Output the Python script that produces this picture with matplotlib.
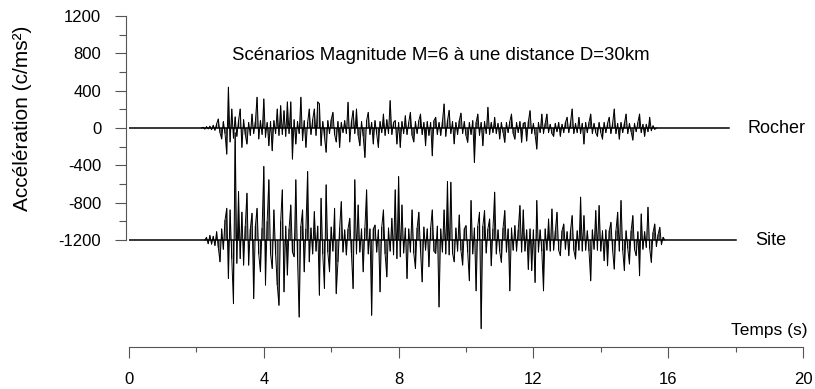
import numpy as np
import matplotlib
matplotlib.use("Agg")
import matplotlib.pyplot as plt
from matplotlib.ticker import MultipleLocator

plt.rcParams["font.family"] = ["Liberation Sans", "DejaVu Sans"]
plt.rcParams["axes.unicode_minus"] = False

dt = 0.05

# Rocher : c/ms2, debut a 2.15 s
rocher_start = 2.15
rocher_flat_end = 17.8
rocher_acc = [
    0, 8, -12, 15, -10, 20, -18, 30, -25, 45, 97, -50, -118, 70, -60, -280, 438, -150, 204, -110,          # 2.15
    120, -90, 80, 204, -208, 90, -70, -172, 60, -80, 150, -60, 70, 330, -118, 80, -70, 312, -100, 60,      # 3.15
    -190, 70, -244, 80, -60, 204, -80, 240, -70, 186, -90, 280, -60, 280, -334, 90, -172, 70, -60, 330,    # 4.15
    -136, 80, -208, 60, 204, -70, 90, 204, -80, 280, 260, -190, 70, -90, -260, 80, -60, 90, 168, -70,      # 5.15
    -150, 70, -208, 60, -50, 80, -60, 276, -150, 70, 186, -60, 204, -80, -190, 70, -90, -316, 80, 168,     # 6.15
    -70, 60, -172, 80, -60, -208, 70, -50, 150, -80, 90, -60, 294, -70, 60, 80, -172, 60, -208, 70,        # 7.15
    -60, 132, -70, 60, 168, -80, -150, 70, -60, 80, 150, -70, 60, -190, 70, -80, 60, -298, 80, 115,        # 8.15
    -70, 60, -80, 70, 258, -90, 80, 190, -60, 70, -170, 60, -70, 80, 160, -60, 70, -80, -154, 60,          # 9.15
    -70, 80, -370, 60, 150, -80, 60, -190, 70, -60, 222, -70, 60, -50, 115, -60, 50, -118, 60, -50,        # 10.15
    -154, 60, -50, 70, 150, -60, -120, 60, -50, 70, -154, 50, 60, -140, 70, 186, -60, 50, -70, -226,       # 11.15
    60, -50, 150, -60, 50, 150, -50, 40, -60, -90, 50, -40, 60, -90, 40, -50, 60, 115, -50, 60,            # 12.15
    204, -60, 50, -50, 115, -60, 50, -172, 60, -50, 60, 150, -60, 50, -50, -90, 60, -50, -120, 60,         # 13.15
    -50, 50, 115, -60, 50, 204, -60, 50, -120, 60, -50, 50, 150, -60, 50, -40, -130, 50, -40, 60,          # 14.15
    150, -50, 40, -90, 40, -40, 115, -30, 25, -15, 0,                                                      # 15.15
]

# Site : c/ms2, debut a 2.25 s
site_start = 2.25
site_flat_end = 18.0
site_acc = [
    0, 30, -40, 50, -45, 40, -60, 90, -80, -234, 120, -100, 215, 340, -413, 323, -200, -682, 1150, -250,            # 2.25
    520, -200, 300, -270, 150, 502, -270, 120, 287, -628, 150, 340, -150, -340, 130, 789, -484, 200, 646, -150,      # 3.25
    -306, 323, -150, -484, -700, 200, 538, -556, 150, -376, 120, 376, -130, -180, 646, -200, -826, 150, 323, -341,   # 4.25
    120, 735, -234, 130, -150, 305, -120, 150, -592, 448, -150, -520, 592, -130, -341, 140, -120, 340, -575, -234,   # 5.25
    130, 412, -130, 110, -161, 120, 233, -140, -521, 646, -150, 376, -130, 120, -341, 130, 538, -150, 120, -807,     # 6.25
    120, 161, -130, 110, -556, 140, 323, -150, -395, 130, -120, 233, -160, 538, -200, 681, -180, 376, -140, 130,     # 7.25
    -413, 120, -130, 323, -140, -306, 130, 298, -120, -449, 140, -110, 120, -287, 130, 323, -120, -144, 150, -718,   # 8.25
    120, -130, 323, -150, 628, -160, 620, -140, -234, 130, -120, 269, -110, -269, 120, 155, -130, -437, 424, -150,   # 9.25
    130, -545, 150, 298, -950, 150, 316, -140, 120, 226, -276, 120, 513, -150, 110, -120, -240, 130, 316, -130,      # 10.25
    120, -545, 130, -110, 155, -120, 110, 370, -130, 323, -120, 110, -316, 120, -328, 110, -455, 424, -130, 110,     # 11.25
    -120, -545, 120, -110, 226, -120, 333, -110, 100, 298, -110, -168, 100, 172, -100, 90, -168, 100, 262, -110,     # 12.25
    -204, 100, -110, 460, -120, 262, -110, 100, -120, -437, 110, -100, 316, -110, 370, -120, 100, -222, 110, -276,   # 13.25
    100, 190, -110, -312, 100, 298, -120, 424, -110, -328, 100, -90, -258, 100, 262, -100, -168, 90, -383, 280,      # 14.25
    -100, 90, -80, 352, -90, -240, 80, 172, -70, 60, 136, -50, 30, 0,                                              # 15.25
]

site_offset = -1200
labels = ["Rocher", "Site"]
title = "Scénarios Magnitude M=6 à une distance D=30km"


def draw_trace(ax, start, flat_end, acc, offset):
    t = start + dt * np.arange(len(acc))
    a = np.asarray(acc, float) + offset
    # ligne de base, signal continu, et un trait vertical par echantillon
    ax.plot([0, flat_end], [offset, offset], color="black", lw=1.1)
    ax.plot(t, a, color="black", lw=0.7)
    ax.vlines(t, offset, a, color="black", lw=0.7, snap=False)


fig = plt.figure(figsize=(8.15, 3.89), dpi=100)
ax = fig.add_axes([129 / 815, 42 / 389, 674 / 815, 331 / 389])

draw_trace(ax, rocher_start, rocher_flat_end, rocher_acc, 0)
draw_trace(ax, site_start, site_flat_end, site_acc, site_offset)

ax.set_xlim(0, 20)
ax.set_ylim(-2346, 1200)

axis_col = "#555555"
for s in ("top", "right"):
    ax.spines[s].set_visible(False)
ax.spines["left"].set_bounds(-1200, 1200)
ax.spines["left"].set_position(("outward", 2))
for s in ("left", "bottom"):
    ax.spines[s].set_color(axis_col)
    ax.spines[s].set_linewidth(0.8)

ax.xaxis.set_major_locator(MultipleLocator(4))
ax.xaxis.set_minor_locator(MultipleLocator(2))
ax.set_yticks(np.arange(-1200, 1201, 400))
ax.set_yticks(np.arange(-1200, 1201, 200), minor=True)

ax.tick_params(axis="x", which="major", direction="out", length=8, width=0.8,
               color=axis_col, labelsize=12, pad=10)
ax.tick_params(axis="x", which="minor", direction="out", length=3.5, width=0.8,
               color=axis_col)
ax.tick_params(axis="y", which="major", direction="out", length=8, width=0.8,
               color=axis_col, labelsize=12, pad=10)
ax.tick_params(axis="y", which="minor", direction="out", length=4.8, width=0.8,
               color=axis_col)

ax.set_ylabel("Accélération (c/ms²)", fontsize=15)
ax.yaxis.set_label_coords(-0.144, 0.692)

ax.text(0.463, 0.882, title, transform=ax.transAxes, ha="center", va="center",
        fontsize=13.4)
ax.text(18.34, 0, labels[0], ha="left", va="center", fontsize=13)
ax.text(18.58, site_offset, labels[1], ha="left", va="center", fontsize=13)
ax.text(1.006, 0.051, "Temps (s)", transform=ax.transAxes, ha="right",
        va="center", fontsize=12.5)

fig.savefig("out.png", dpi=100)
